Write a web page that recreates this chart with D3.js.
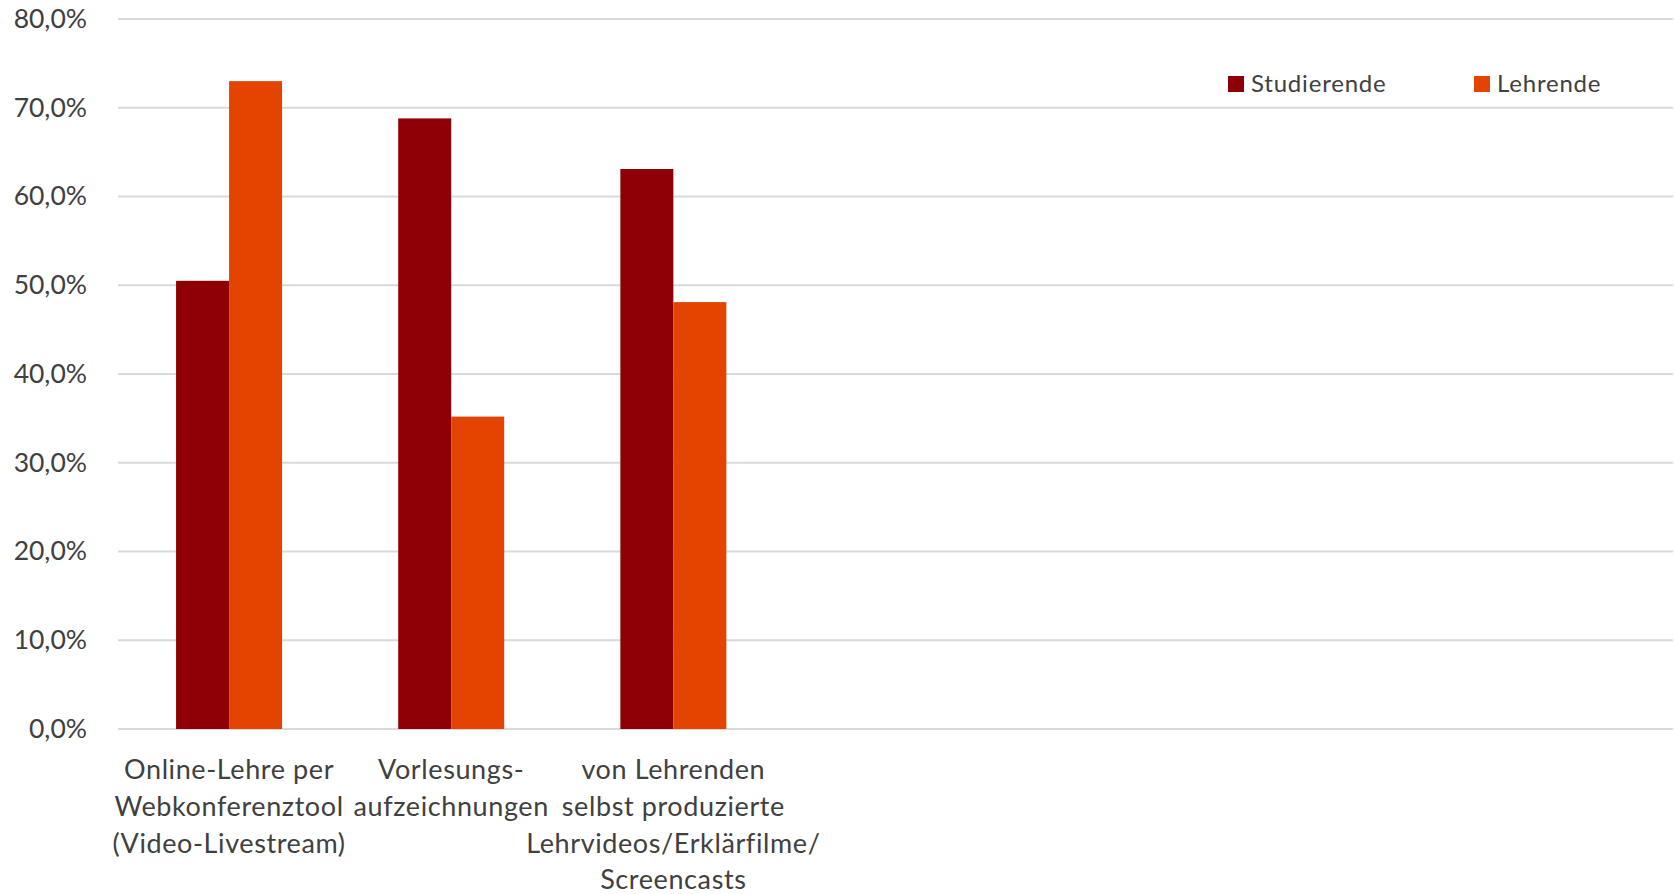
<!DOCTYPE html>
<html><head><meta charset="utf-8">
<script src="https://cdn.jsdelivr.net/npm/d3@7"></script>
<style>html,body{margin:0;padding:0;background:#fff;}svg{display:block;}</style>
</head><body>
<script>
const categories = ["Online-Lehre per\nWebkonferenztool\n(Video-Livestream)", "Vorlesungs-\naufzeichnungen", "von Lehrenden\nselbst produzierte\nLehrvideos/Erklärfilme/\nScreencasts"];
const seriesNames = ["Studierende", "Lehrende"];
const studierende = [0.505, 0.688, 0.631];
const lehrende = [0.730, 0.352, 0.481];
const yTicks = [0, 0.1, 0.2, 0.3, 0.4, 0.5, 0.6, 0.7, 0.8];
const colors = ["#8f0006", "#e34400"];
const slotCount = 7;

(function () {
const W = 1674, H = 894;
const mLeft = 118, mRight = 1673, mTop = 19, mBottom = 729;
const font = "Lato, 'Open Sans', sans-serif";
const textColor = "#404040";

const svg = d3.select("body").append("svg").attr("width", W).attr("height", H);

const y = d3.scaleLinear().domain([0, 0.8]).range([mBottom, mTop]);
const x = d3.scaleBand().domain(d3.range(slotCount)).range([mLeft, mRight]).paddingInner(0).paddingOuter(0);
const inner = d3.scaleBand().domain(seriesNames).range([0, 106]);
const fmt = v => (v * 100).toFixed(1).replace(".", ",") + "%";

svg.append("g").selectAll("line").data(yTicks).join("line")
  .attr("x1", mLeft).attr("x2", mRight)
  .attr("y1", d => y(d)).attr("y2", d => y(d))
  .attr("stroke", "#d9d9d9").attr("stroke-width", 2);

const yAxis = d3.axisLeft(y).tickValues(yTicks).tickFormat(fmt).tickSize(0).tickPadding(0);
const ya = svg.append("g").attr("transform", "translate(87,0)").call(yAxis);
ya.select(".domain").remove();
ya.selectAll("text").attr("font-family", font).attr("font-size", 26.5).attr("fill", textColor);

const series = [studierende, lehrende];
series.forEach((vals, si) => {
  svg.append("g").selectAll("rect").data(vals).join("rect")
    .attr("x", (d, i) => x(i) + x.bandwidth() / 2 - 53 + inner(seriesNames[si]))
    .attr("width", inner.bandwidth())
    .attr("y", d => y(d))
    .attr("height", d => y(0) - y(d))
    .attr("fill", colors[si]);
});

const cg = svg.append("g");
categories.forEach((c, i) => {
  const cx = x(i) + x.bandwidth() / 2;
  const t = cg.append("text")
    .attr("text-anchor", "middle")
    .attr("font-family", font).attr("font-size", 27).attr("fill", textColor)
    .attr("letter-spacing", 0.6);
  c.split("\n").forEach((line, li) => {
    t.append("tspan").attr("x", cx).attr("y", 779 + li * 36.8).text(line);
  });
});

const legendX = [1228, 1474];
const lg = svg.append("g");
seriesNames.forEach((n, i) => {
  lg.append("rect").attr("x", legendX[i]).attr("y", 76).attr("width", 16).attr("height", 16).attr("fill", colors[i]);
  lg.append("text").attr("x", legendX[i] + 23).attr("y", 92)
    .attr("font-family", font).attr("font-size", 24).attr("fill", textColor)
    .attr("letter-spacing", 0.8).text(n);
});
})();
</script>
</body></html>
